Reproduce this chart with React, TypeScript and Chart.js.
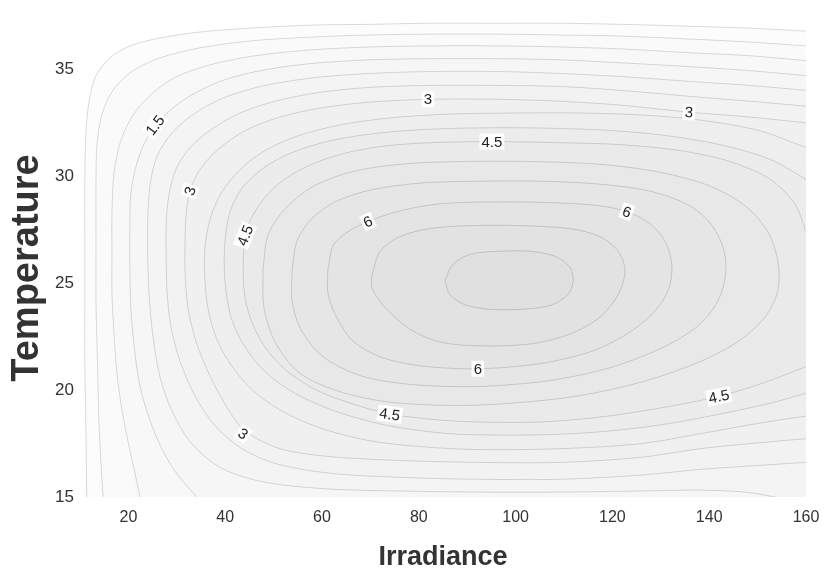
import React, { useEffect, useRef } from 'react';
import { Chart, registerables } from 'chart.js';

Chart.register(...registerables);

type Pt = [number, number];

// Axis limits and ticks
const X_MIN = 10;
const X_MAX = 160;
const Y_MIN = 15;
const Y_MAX = 37.5;
const xTicks = [20, 40, 60, 80, 100, 120, 140, 160];
const yTicks = [15, 20, 25, 30, 35];
const xTitle = 'Irradiance';
const yTitle = 'Temperature';

// Contour lines: [irradiance, temperature]
const level0: Pt[] = [[160,36.8],[148.4,36.94],[136.0,37.03],[121.6,37.12],[109.2,37.17],[96.8,37.17],[82.3,37.17],[69.9,37.12],[57.5,37.08],[45.1,36.94],[34.8,36.76],[26.5,36.48],[20.3,36.11],[16.2,35.55],[13.3,34.72],[11.9,33.57],[11.2,31.95],[11.0,29.64],[11.0,26.87],[11.0,24.1],[11.0,21.33],[11.2,18.56],[11.4,15.0]];
const level05: Pt[] = [[160,36.11],[148.4,36.29],[136.0,36.43],[121.6,36.57],[109.2,36.62],[96.8,36.66],[82.3,36.66],[69.9,36.62],[57.5,36.52],[45.1,36.34],[34.8,36.02],[26.5,35.55],[20.7,34.91],[16.8,34.03],[14.5,32.88],[13.5,31.49],[13.3,29.64],[13.3,27.79],[13.3,25.95],[13.3,24.1],[13.5,22.25],[13.7,20.4],[13.9,18.56],[14.3,16.71],[14.8,15.0]];
const level1: Pt[] = [[160,35.42],[148.4,35.65],[136.0,35.79],[121.6,35.97],[109.2,36.06],[96.8,36.11],[82.3,36.11],[69.9,36.06],[57.5,35.92],[46.2,35.65],[36.9,35.23],[29.6,34.63],[24.5,33.8],[20.7,32.78],[18.3,31.58],[17.0,30.1],[16.6,28.26],[16.6,26.41],[16.6,24.56],[17.0,22.71],[17.6,20.87],[18.7,19.02],[20.1,17.4],[21.0,16.48],[22.4,15.0]];
const level15: Pt[] = [[160,34.72],[148.4,34.95],[136.0,35.14],[121.6,35.32],[109.2,35.46],[96.8,35.51],[82.3,35.51],[69.9,35.46],[57.5,35.28],[47.2,34.95],[38.9,34.45],[32.3,33.71],[27.6,32.88],[24.0,31.86],[21.8,30.66],[20.5,29.18],[20.3,27.56],[20.3,25.72],[20.5,23.87],[21.2,22.02],[22.4,20.17],[24.5,18.56],[27.1,17.17],[30.2,16.02],[34.2,15.0]];
const level2: Pt[] = [[160,34.03],[148.4,34.26],[136.0,34.45],[121.6,34.68],[109.2,34.82],[96.8,34.91],[82.3,34.91],[69.9,34.82],[58.6,34.63],[48.2,34.26],[40.0,33.71],[33.8,32.97],[29.0,32.04],[25.9,30.94],[24.5,29.64],[24.0,28.03],[24.0,26.18],[24.3,24.33],[25.1,22.48],[26.5,20.64],[29.0,19.02],[33.1,17.49],[39.3,16.34],[48.2,15.69],[61.7,15.37],[76.1,15.28],[92.2,15.23],[109.2,15.23],[125.7,15.28],[138.1,15.32],[147.4,15.23],[153.6,15.0]];
const level25: Pt[] = [[160,33.29],[148.4,33.52],[136.0,33.75],[121.6,34.03],[109.2,34.21],[96.8,34.26],[82.3,34.26],[69.9,34.17],[59.6,33.94],[50.3,33.52],[43.1,32.97],[37.3,32.23],[32.7,31.35],[29.8,30.33],[28.4,29.18],[27.8,27.79],[27.8,26.18],[28.0,24.56],[28.8,22.94],[30.7,21.33],[33.8,19.71],[37.9,18.33],[43.1,17.31],[50.3,16.57],[61.7,16.11],[76.1,15.92],[92.2,15.83],[109.2,15.83],[125.7,16.02],[138.1,16.29],[150.5,16.48],[160,16.62]];
const level3: Pt[] = [[160,32.51],[148.4,32.78],[135.8,33.01],[121.6,33.34],[109.2,33.52],[96.8,33.61],[81.9,33.61],[69.9,33.48],[59.6,33.2],[51.3,32.78],[44.1,32.14],[38.5,31.26],[34.8,30.33],[32.7,29.32],[31.9,28.16],[31.7,26.87],[31.7,25.49],[32.3,23.87],[34.0,22.25],[36.9,20.64],[40.6,19.11],[44.1,18.09],[51.3,17.26],[61.7,16.89],[76.1,16.71],[92.2,16.62],[109.2,16.62],[125.7,16.85],[138.1,17.26],[150.5,17.54],[160,17.73]];
const level35: Pt[] = [[160,31.35],[150.5,32.14],[138.1,32.64],[125.7,32.88],[113.3,32.97],[100.3,32.97],[86.4,32.92],[74.0,32.74],[63.7,32.41],[55.0,31.9],[48.2,31.21],[43.1,30.33],[39.3,29.27],[36.9,28.03],[35.8,26.64],[35.8,25.25],[36.4,23.87],[38.1,22.48],[41.0,21.24],[45.5,20.03],[51.7,19.02],[59.6,18.23],[69.9,17.63],[80.2,17.36],[92.2,17.22],[109.2,17.26],[125.7,17.49],[138.1,17.96],[150.5,18.46],[160,18.79]];
const level4: Pt[] = [[160,29.87],[152.6,30.8],[142.2,31.49],[129.8,31.95],[117.4,32.18],[100.3,32.28],[84.4,32.23],[72.0,32.04],[61.7,31.67],[53.8,31.12],[47.8,30.38],[43.5,29.46],[41.0,28.35],[40.0,27.1],[39.8,25.85],[40.2,24.56],[41.4,23.27],[44.1,22.02],[48.2,20.87],[54.4,19.85],[62.7,19.02],[73.0,18.37],[84.4,18.0],[92.2,17.91],[105.0,17.91],[117.4,18.05],[129.8,18.37],[142.2,18.88],[152.6,19.39],[160,19.85]];
const level45: Pt[] = [[160,27.42],[157.7,28.72],[152.6,29.87],[144.3,30.7],[134.0,31.21],[121.6,31.49],[109.2,31.58],[95.1,31.63],[82.3,31.58],[72.0,31.4],[63.7,31.03],[56.5,30.43],[50.9,29.64],[47.2,28.72],[44.7,27.7],[43.9,26.64],[43.7,25.49],[44.1,24.33],[45.5,23.18],[48.2,22.02],[52.4,20.96],[58.6,20.03],[65.8,19.39],[74.0,18.88],[84.4,18.6],[92.2,18.51],[105.0,18.51],[117.4,18.74],[129.8,19.16],[142.0,19.71],[151.5,20.36],[160,21.1]];
const level5: Pt[] = [[47.8,25.58],[48.8,27.24],[52.4,28.49],[57.9,29.5],[65.8,30.2],[76.1,30.57],[88.5,30.7],[103.0,30.7],[117.4,30.57],[129.8,30.2],[140.2,29.55],[147.4,28.63],[152.1,27.42],[154.2,26.04],[154.2,24.65],[151.5,23.41],[146.4,22.34],[138.1,21.33],[125.7,20.36],[111.2,19.67],[92.2,19.3],[76.1,19.39],[64.8,19.85],[55.5,20.77],[50.3,22.25],[48.0,23.87],[47.8,25.58]];
const level55: Pt[] = [[53.8,25.58],[54.8,26.96],[57.9,28.03],[62.7,28.81],[69.9,29.36],[80.2,29.69],[92.6,29.78],[105.0,29.78],[117.4,29.64],[127.8,29.31],[136.0,28.63],[140.6,27.7],[143.1,26.5],[143.3,25.25],[141.4,24.0],[137.1,22.9],[129.8,21.93],[119.5,21.05],[107.1,20.45],[92.2,20.17],[78.2,20.27],[67.9,20.68],[60.0,21.6],[55.5,22.9],[53.8,24.19],[53.8,25.58]];
const level6: Pt[] = [[61.2,25.58],[62.3,26.78],[65.4,27.42],[69.5,27.89],[76.1,28.39],[84.4,28.72],[96.8,28.81],[109.2,28.76],[117.4,28.63],[123.0,28.35],[127.8,27.79],[130.9,26.96],[132.3,25.85],[131.5,24.65],[128.2,23.55],[122.6,22.57],[115.4,21.79],[105.0,21.24],[92.2,21.0],[80.2,21.14],[72.0,21.56],[66.2,22.34],[62.7,23.55],[61.2,24.56],[61.2,25.58]];
const level65: Pt[] = [[70.3,25.39],[72.0,26.5],[76.1,27.19],[82.3,27.56],[90.6,27.7],[100.9,27.7],[111.2,27.56],[117.4,27.19],[121.2,26.5],[122.6,25.58],[121.2,24.47],[117.4,23.41],[111.2,22.62],[103.0,22.16],[92.6,22.07],[84.4,22.25],[78.2,22.85],[73.0,23.87],[70.3,24.79],[70.3,25.39]];
const level7: Pt[] = [[85.4,25.12],[86.9,25.85],[90.6,26.36],[96.8,26.5],[103.0,26.5],[108.1,26.27],[111.2,25.76],[111.9,25.12],[110.8,24.47],[107.1,23.96],[100.9,23.78],[94.7,23.78],[89.5,24.0],[86.4,24.47],[85.4,25.12]];

// lines that end on the bottom edge close their shaded region through the bottom-right corner
const bottomRightCorner: Pt[] = [[X_MAX, Y_MIN]];

const contourLines: Pt[][] = [level0, level05, level1, level15, level2, level25, level3, level35, level4, level45, level5, level55, level6, level65, level7];
const closures: Pt[][] = [bottomRightCorner, bottomRightCorner, bottomRightCorner, bottomRightCorner, bottomRightCorner, [], [], [], [], [], [], [], [], [], []];

// Contour labels
const labelTexts = ['1.5', '3', '4.5', '6', '3', '4.5', '3', '6', '6', '4.5', '4.5', '3'];
const labelX = [25.5, 32.7, 44.1, 69.5, 81.9, 95.1, 135.8, 123.0, 92.2, 74.0, 142.0, 43.7];
const labelY = [32.4, 29.32, 27.24, 27.89, 33.61, 31.63, 33.01, 28.35, 21.0, 18.88, 19.71, 17.96];
const labelAngle = [-52, -72, -68, -25, 0, 0, 3, 20, 0, 8, -12, 35];

const FONT = '"Liberation Sans", Arial, Helvetica, sans-serif';

const contourLabelPlugin = {
  id: 'contourLabels',
  afterDatasetsDraw(chart: any) {
    const { ctx } = chart;
    const xs = chart.scales.x;
    const ys = chart.scales.y;
    ctx.save();
    ctx.font = `15px ${FONT}`;
    ctx.textAlign = 'center';
    ctx.textBaseline = 'middle';
    labelTexts.forEach((t, i) => {
      const px = xs.getPixelForValue(labelX[i]);
      const py = ys.getPixelForValue(labelY[i]);
      ctx.save();
      ctx.translate(px, py);
      ctx.rotate((labelAngle[i] * Math.PI) / 180);
      const w = ctx.measureText(t).width;
      ctx.fillStyle = 'rgba(255,255,255,0.95)';
      ctx.fillRect(-w / 2 - 2, -8, w + 4, 16);
      ctx.fillStyle = '#222';
      ctx.fillText(t, 0, 1);
      ctx.restore();
    });
    ctx.restore();
  },
};

// y-axis title, placed a little below the plot's middle as in the source figure
const yTitlePlugin = {
  id: 'yTitle',
  afterDraw(chart: any) {
    const { ctx } = chart;
    ctx.save();
    ctx.translate(28, 268);
    ctx.rotate(-Math.PI / 2);
    ctx.font = `bold 38px ${FONT}`;
    ctx.fillStyle = '#333';
    ctx.textAlign = 'center';
    ctx.textBaseline = 'middle';
    ctx.fillText(yTitle, 0, 0);
    ctx.restore();
  },
};

export default function App() {
  const canvasRef = useRef<HTMLCanvasElement | null>(null);

  useEffect(() => {
    if (!canvasRef.current) return;
    const toXY = (pts: Pt[]) => pts.map(([x, y]) => ({ x, y }));

    const lineSets = contourLines.map((pts) => ({
      data: toXY(pts),
      showLine: true,
      borderColor: 'rgba(0,0,0,0.15)',
      borderWidth: 1,
      pointRadius: 0,
      tension: 0.3,
      fill: false,
      order: 0,
    }));
    const fillSets = contourLines.map((pts, i) => ({
      data: toXY([...pts, ...closures[i]]),
      showLine: true,
      borderColor: 'rgba(0,0,0,0)',
      borderWidth: 0,
      pointRadius: 0,
      tension: 0.3,
      fill: 'shape',
      backgroundColor: 'rgba(0,0,0,0.011)',
      order: 1,
    }));

    const chart = new Chart(canvasRef.current, {
      type: 'scatter',
      data: { datasets: [...lineSets, ...fillSets] as any },
      options: {
        animation: false,
        responsive: true,
        maintainAspectRatio: false,
        events: [],
        layout: { padding: { top: 10, right: 25, left: 0, bottom: 0 } },
        plugins: {
          legend: { display: false },
          tooltip: { enabled: false },
        },
        scales: {
          x: {
            type: 'linear',
            min: X_MIN,
            max: X_MAX,
            grid: { display: false, drawTicks: false },
            border: { display: false },
            afterBuildTicks: (scale: any) => {
              scale.ticks = xTicks.map((v) => ({ value: v }));
            },
            afterFit: (scale: any) => {
              scale.height = 77;
            },
            ticks: {
              padding: 11,
              color: '#333',
              font: { family: FONT, size: 16 },
            },
            title: {
              display: true,
              text: xTitle,
              color: '#333',
              font: { family: FONT, size: 27, weight: 'bold', lineHeight: 1 },
              padding: { top: 0, bottom: 3 },
            },
          },
          y: {
            type: 'linear',
            min: Y_MIN,
            max: Y_MAX,
            grid: { display: false, drawTicks: false },
            border: { display: false },
            afterBuildTicks: (scale: any) => {
              scale.ticks = yTicks.map((v) => ({ value: v }));
            },
            afterFit: (scale: any) => {
              scale.width = 80;
            },
            ticks: {
              padding: 6,
              color: '#333',
              font: { family: FONT, size: 17 },
            },
            title: { display: false, text: yTitle },
          },
        },
      } as any,
      plugins: [contourLabelPlugin, yTitlePlugin],
    });

    return () => chart.destroy();
  }, []);

  return (
    <div style={{ position: 'absolute', left: 0, top: 0, width: 831, height: 574, background: '#fff' }}>
      <canvas ref={canvasRef} />
    </div>
  );
}
